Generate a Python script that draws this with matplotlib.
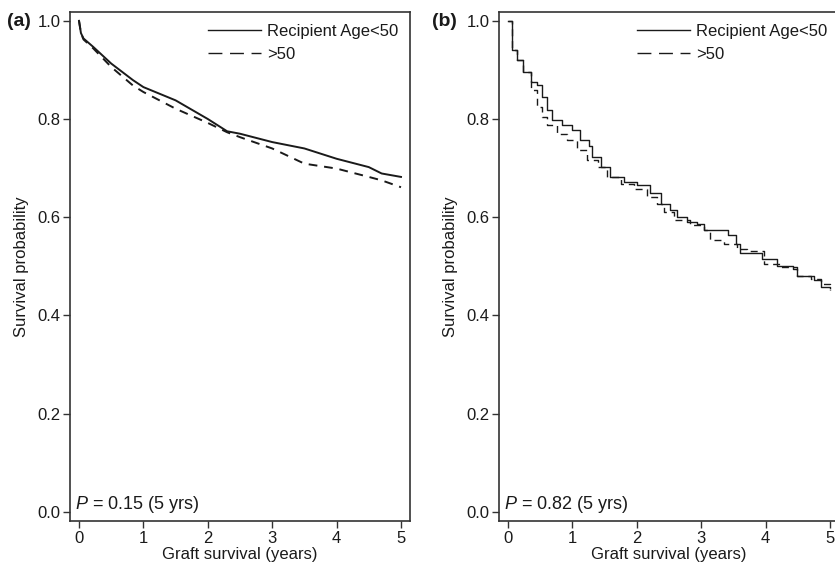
import matplotlib
matplotlib.use("Agg")
import matplotlib.pyplot as plt

plt.rcParams['font.family'] = ['Liberation Sans', 'DejaVu Sans']
plt.rcParams['mathtext.fontset'] = 'custom'
plt.rcParams['mathtext.it'] = 'Liberation Sans:italic'
plt.rcParams['mathtext.rm'] = 'Liberation Sans'

# panel (a) - smooth KM curves
a_t = [0, 0.03, 0.07, 0.22, 0.5, 0.84, 1.0, 1.5, 2.0, 2.3, 2.5, 3.0, 3.5, 4.0, 4.5, 4.7, 5.0]
a_young = [1.0, 0.975, 0.964, 0.947, 0.913, 0.879, 0.865, 0.838, 0.80, 0.775, 0.770, 0.753, 0.740,
           0.719, 0.702, 0.689, 0.682]
a_old = [1.0, 0.975, 0.962, 0.944, 0.906, 0.868, 0.855, 0.821, 0.792, 0.773, 0.763, 0.740, 0.709,
         0.699, 0.682, 0.675, 0.661]

# panel (b) - step KM curves
b_t_young = [0, 0.06, 0.14, 0.24, 0.35, 0.45, 0.53, 0.61, 0.68, 0.84, 1.0, 1.12, 1.25, 1.31, 1.44,
             1.59, 1.80, 2.0, 2.2, 2.37, 2.52, 2.63, 2.78, 2.94, 3.04, 3.41, 3.54, 3.61, 3.95,
             4.18, 4.42, 4.49, 4.75, 4.86, 5.0]
b_young = [1.0, 0.94, 0.92, 0.896, 0.875, 0.869, 0.845, 0.818, 0.797, 0.787, 0.777, 0.757, 0.746,
           0.722, 0.702, 0.682, 0.671, 0.665, 0.650, 0.627, 0.614, 0.600, 0.590, 0.587, 0.573,
           0.563, 0.546, 0.527, 0.515, 0.501, 0.495, 0.481, 0.471, 0.457, 0.455]
b_t_old = [0, 0.06, 0.14, 0.24, 0.35, 0.45, 0.53, 0.61, 0.76, 0.92, 1.07, 1.23, 1.39, 1.54, 1.75,
           1.95, 2.16, 2.32, 2.42, 2.57, 2.83, 3.04, 3.14, 3.35, 3.56, 3.71, 3.97, 4.23, 4.49,
           4.7, 4.86, 5.0]
b_old = [1.0, 0.94, 0.92, 0.896, 0.859, 0.825, 0.804, 0.787, 0.770, 0.757, 0.736, 0.716, 0.702,
         0.682, 0.668, 0.658, 0.641, 0.627, 0.610, 0.595, 0.584, 0.573, 0.553, 0.546, 0.536,
         0.532, 0.505, 0.498, 0.481, 0.475, 0.464, 0.452]

yticks = [0.0, 0.2, 0.4, 0.6, 0.8, 1.0]
xticks = [0, 1, 2, 3, 4, 5]
legend_labels = ["Recipient Age<50", ">50"]
p_texts = ["0.15", "0.82"]
panel_tags = ["(a)", "(b)"]

ink = "#1a1a1a"
fig = plt.figure(figsize=(8.35, 5.69), dpi=100)
ax_a = fig.add_axes([70 / 835, 1 - 521 / 569, 340 / 835, 509 / 569])
ax_b = fig.add_axes([499 / 835, 1 - 521 / 569, 340 / 835, 509 / 569])

ax_a.plot(a_t, a_young, color=ink, lw=1.4, label=legend_labels[0])
ax_a.plot(a_t, a_old, color=ink, lw=1.4, ls=(0, (4.5, 3.5)), label=legend_labels[1])
ax_b.plot(b_t_young, b_young, color=ink, lw=1.0, drawstyle='steps-post', label=legend_labels[0])
ax_b.plot(b_t_old, b_old, color=ink, lw=1.0, ls=(0, (5, 3.5)), drawstyle='steps-post',
          label=legend_labels[1])

for i, ax in enumerate([ax_a, ax_b]):
    ax.set_xlim(-0.14, 5.14)
    ax.set_ylim(-0.019, 1.018)
    ax.set_xticks(xticks)
    ax.set_yticks(yticks)
    ax.set_yticklabels(["%.1f" % v for v in yticks])
    ax.tick_params(direction='out', length=5, width=1, colors="#333333", labelsize=12,
                   labelcolor=ink, pad=2)
    for s in ax.spines.values():
        s.set_color("#333333")
        s.set_linewidth(1.2)
    ax.set_xlabel("Graft survival (years)", fontsize=12, color=ink, labelpad=1)
    ax.set_ylabel("Survival probability", fontsize=12, color=ink, labelpad=6)
    leg = ax.legend(loc='upper right', frameon=False, fontsize=12, handlelength=3.2,
                    handletextpad=0.35, borderaxespad=0.3, labelspacing=0.5,
                    labelcolor=ink)
    handles = leg.get_lines()
    for h in handles:
        h.set_linewidth(1.0)
    handles[1].set_linestyle((0, (10, 5.5)))
    ax.text(0.014, 0.012, r"$P$ = " + p_texts[i] + " (5 yrs)", transform=ax.transAxes,
            fontsize=13, color=ink, ha='left', va='bottom')

fig.text(7 / 835, 1 - 21 / 569, panel_tags[0], fontsize=14, fontweight='bold', color=ink,
         va='center', ha='left')
fig.text(432 / 835, 1 - 21 / 569, panel_tags[1], fontsize=14, fontweight='bold', color=ink,
         va='center', ha='left')

fig.savefig("out.png", dpi=100)
